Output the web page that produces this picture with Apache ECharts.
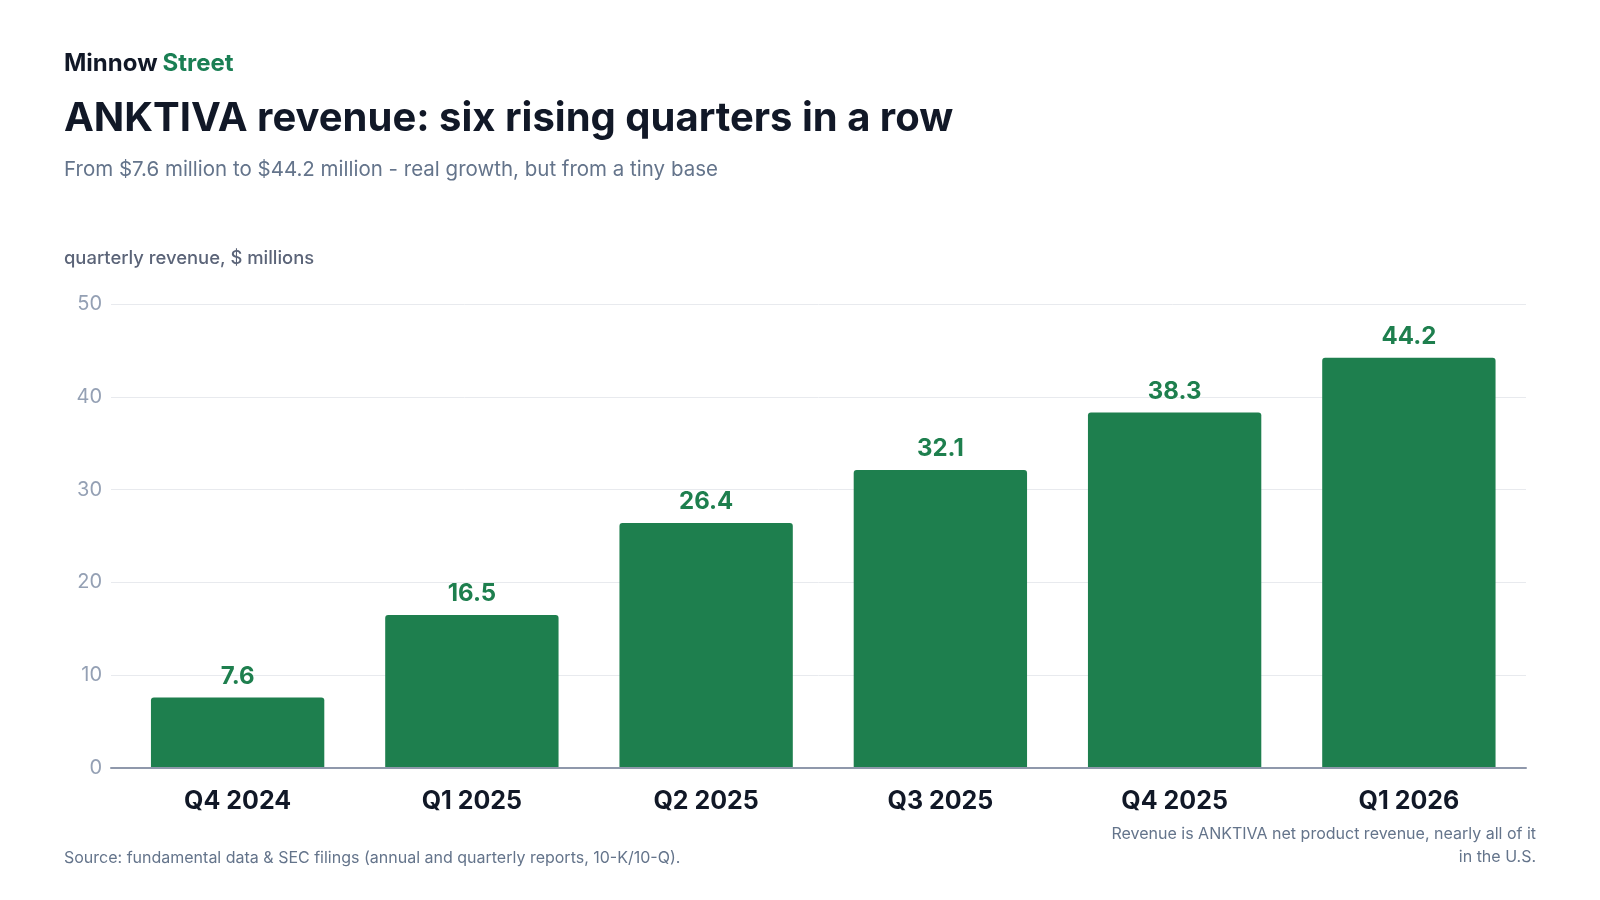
<!DOCTYPE html>
<html><head><meta charset="utf-8">
<script src="https://cdn.jsdelivr.net/npm/echarts@6/dist/echarts.min.js"></script>
<style>html,body{margin:0;padding:0;background:#fff;}#c{width:1600px;height:900px;}</style>
</head><body><div id="c"></div>
<script>
const categories = ['Q4 2024','Q1 2025','Q2 2025','Q3 2025','Q4 2025','Q1 2026'];
const revenue = [7.6, 16.5, 26.4, 32.1, 38.3, 44.2];
const yTicks = [0, 10, 20, 30, 40, 50];
const noteLines = ['Revenue is ANKTIVA net product revenue, nearly all of it', 'in the U.S.'];

const green = '#1e7f4e';
const F = 'Inter';
const gTop = 304, gBottom = 132, gRight = 74;
const chart = echarts.init(document.getElementById('c'));
chart.setOption({
  backgroundColor: '#ffffff',
  animation: false,
  title: [
    {text: '{a|Minnow} {b|Street}', left: 59, top: 47, textStyle: {rich: {
      a: {fontFamily: F, fontWeight: 700, fontSize: 24, color: '#111827'},
      b: {fontFamily: F, fontWeight: 700, fontSize: 24, color: '#1a7f54'}}}},
    {text: 'ANKTIVA revenue: six rising quarters in a row', left: 59, top: 94,
      textStyle: {fontFamily: F, fontWeight: 700, fontSize: 40, color: '#111827'}},
    {text: 'From $7.6 million to $44.2 million - real growth, but from a tiny base', left: 59, top: 154,
      textStyle: {fontFamily: F, fontWeight: 400, fontSize: 20.5, color: '#64748b'}},
    {text: 'quarterly revenue, $ millions', left: 59, top: 244,
      textStyle: {fontFamily: F, fontWeight: 500, fontSize: 18.4, color: '#5b6478'}},
    {text: 'Source: fundamental data & SEC filings (annual and quarterly reports, 10-K/10-Q).', left: 59, top: 845,
      textStyle: {fontFamily: F, fontWeight: 400, fontSize: 16, color: '#64748b'}}
  ],
  graphic: noteLines.map((t, i) => ({
    type: 'text', right: 64, top: 826 + i * 23,
    style: {text: t, fontFamily: F, fontSize: 16, fill: '#64748b'}
  })),
  grid: [
    {left: 111, right: gRight, top: gTop, bottom: gBottom},
    {left: 120.5, right: gRight, top: gTop, bottom: gBottom}
  ],
  xAxis: [
    {type: 'category', gridIndex: 0, data: categories,
      axisLine: {lineStyle: {color: '#8f98ab', width: 2}}, axisTick: {show: false}, axisLabel: {show: false}, z: 5},
    {type: 'category', gridIndex: 1, data: categories,
      axisLine: {show: false}, axisTick: {show: false},
      axisLabel: {color: '#111827', fontSize: 25, fontWeight: 700, fontFamily: F, margin: 21}}
  ],
  yAxis: [
    {type: 'value', gridIndex: 0, min: 0, max: 50, interval: 10,
      axisLine: {show: false}, axisTick: {show: false},
      splitLine: {lineStyle: {color: '#e8eaee', width: 1}},
      axisLabel: {color: '#94a0b4', fontSize: 20, fontFamily: F, margin: 9,
        formatter: v => yTicks.includes(v) ? String(v) : ''}},
    {type: 'value', gridIndex: 1, min: 0, max: 50, interval: 10, show: false, splitLine: {show: false}}
  ],
  series: [{
    type: 'bar', xAxisIndex: 1, yAxisIndex: 1, data: revenue, barCategoryGap: '26%',
    itemStyle: {color: green, borderRadius: [3,3,0,0]},
    label: {show: true, position: 'top', distance: 9, color: green, fontSize: 24, fontWeight: 700,
      fontFamily: F, formatter: p => p.value.toFixed(1)}
  }]
});
</script></body></html>
